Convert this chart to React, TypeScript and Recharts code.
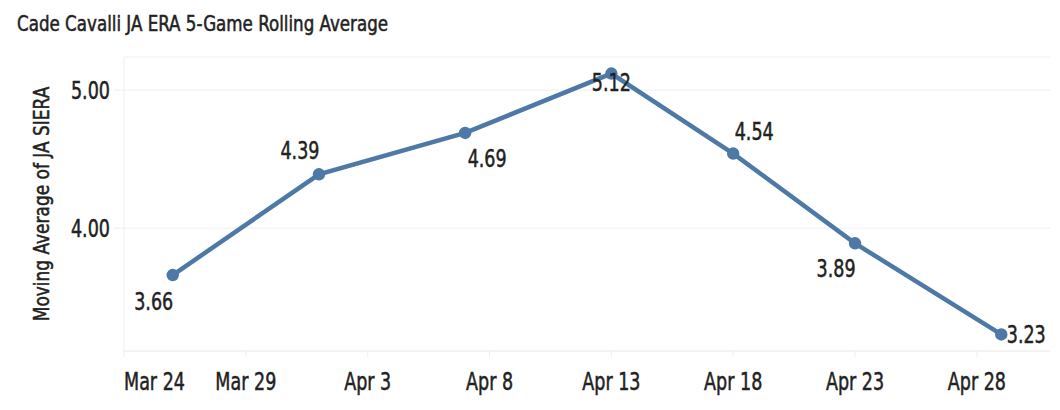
import { LineChart, Line, XAxis, YAxis, CartesianGrid, LabelList } from 'recharts';

const gameDates = ['2025-03-26', '2025-04-01', '2025-04-07', '2025-04-13', '2025-04-18', '2025-04-23', '2025-04-29'];
const sieraAvg = [3.66, 4.39, 4.69, 5.12, 4.54, 3.89, 3.23];
const tickDates = ['2025-03-24', '2025-03-29', '2025-04-03', '2025-04-08', '2025-04-13', '2025-04-18', '2025-04-23', '2025-04-28'];
const tickLabels = ['Mar 24', 'Mar 29', 'Apr 3', 'Apr 8', 'Apr 13', 'Apr 18', 'Apr 23', 'Apr 28'];
const xStart = '2025-03-24';
const xEnd = '2025-05-01';
const yTicks = [4, 5];
const yDomain = [3.11, 5.24];
const chartTitle = 'Cade Cavalli JA ERA 5-Game Rolling Average';
const yTitle = 'Moving Average of JA SIERA';

const toTime = (d: string) => new Date(d + 'T00:00:00Z').getTime();

const data = gameDates.map((d, i) => ({ date: toTime(d), value: sieraAvg[i] }));
const tickTimes = tickDates.map(toTime);

const FONT = "'DejaVu Sans Condensed', 'DejaVu Sans', sans-serif";
const INK = '#222';
const BLUE = '#4e79a7';
// no narrow font installed, so squeeze the glyphs a bit
const SQUEEZE = 0.78;

const textStyle = { fontFamily: FONT, fontSize: 25, fill: INK, stroke: INK, strokeWidth: 0.5 };

// label offsets relative to each point, tuned by eye
const labelOffsets: [number, number][] = [
    [-19, 26],
    [-19, -24],
    [22, 25],
    [0, 8],
    [21, -23],
    [-19, 25],
    [25, 0],
];

const renderLabel = (props: any) => {
    const { x, y, value, index } = props;
    const [dx, dy] = labelOffsets[index] || [0, -15];
    return (
        <g transform={`translate(${x + dx},${y + dy + 9})`}>
            <text transform={`scale(${SQUEEZE},1)`} textAnchor="middle" style={textStyle}>
                {Number(value).toFixed(2)}
            </text>
        </g>
    );
};

const XTick = (props: any) => {
    const { x, y, payload, index } = props;
    const i = tickTimes.indexOf(payload.value);
    return (
        <g transform={`translate(${x},${y + 33})`}>
            <text transform={`scale(${SQUEEZE},1)`} textAnchor={index === 0 ? 'start' : 'middle'} style={textStyle}>
                {i >= 0 ? tickLabels[i] : ''}
            </text>
        </g>
    );
};

const YTick = (props: any) => {
    const { x, y, payload } = props;
    return (
        <g transform={`translate(${x},${y + 9})`}>
            <text transform={`scale(${SQUEEZE},1)`} textAnchor="end" style={textStyle}>
                {Number(payload.value).toFixed(2)}
            </text>
        </g>
    );
};

const YTitle = (props: any) => {
    const { viewBox } = props;
    const cy = viewBox.y + viewBox.height / 2;
    return (
        <g transform={`translate(49,${cy}) rotate(-90)`}>
            <text transform="scale(0.9,1)" textAnchor="middle" style={{ ...textStyle, fontSize: 21 }}>
                {yTitle}
            </text>
        </g>
    );
};

export default function App() {
    return (
        <div style={{ position: 'absolute', left: 0, top: 0, width: 1060, height: 410, background: 'white' }}>
            <svg width={420} height={45} style={{ position: 'absolute', left: 0, top: 0 }}>
                <g transform="translate(17,31)">
                    <text transform="scale(0.885,1)" style={{ ...textStyle, fontSize: 21 }}>
                        {chartTitle}
                    </text>
                </g>
            </svg>
            <LineChart
                width={1060}
                height={410}
                data={data}
                margin={{ top: 57, right: 10, bottom: 0, left: 0 }}
            >
                <CartesianGrid vertical={false} stroke="#efefef" />
                <XAxis
                    dataKey="date"
                    type="number"
                    scale="time"
                    domain={[toTime(xStart), toTime(xEnd)]}
                    ticks={tickTimes}
                    height={59}
                    stroke="#eeeeee"
                    tickSize={6}
                    tickMargin={0}
                    tick={<XTick />}
                />
                <YAxis
                    type="number"
                    domain={yDomain}
                    ticks={yTicks}
                    width={124}
                    stroke="#eeeeee"
                    tickSize={10}
                    tickMargin={4}
                    tick={<YTick />}
                    label={<YTitle />}
                />
                <Line
                    type="linear"
                    dataKey="value"
                    stroke={BLUE}
                    strokeWidth={4.5}
                    dot={{ fill: BLUE, stroke: BLUE, r: 4 }}
                    activeDot={false}
                    isAnimationActive={false}
                >
                    <LabelList dataKey="value" content={renderLabel} />
                </Line>
            </LineChart>
        </div>
    );
}
